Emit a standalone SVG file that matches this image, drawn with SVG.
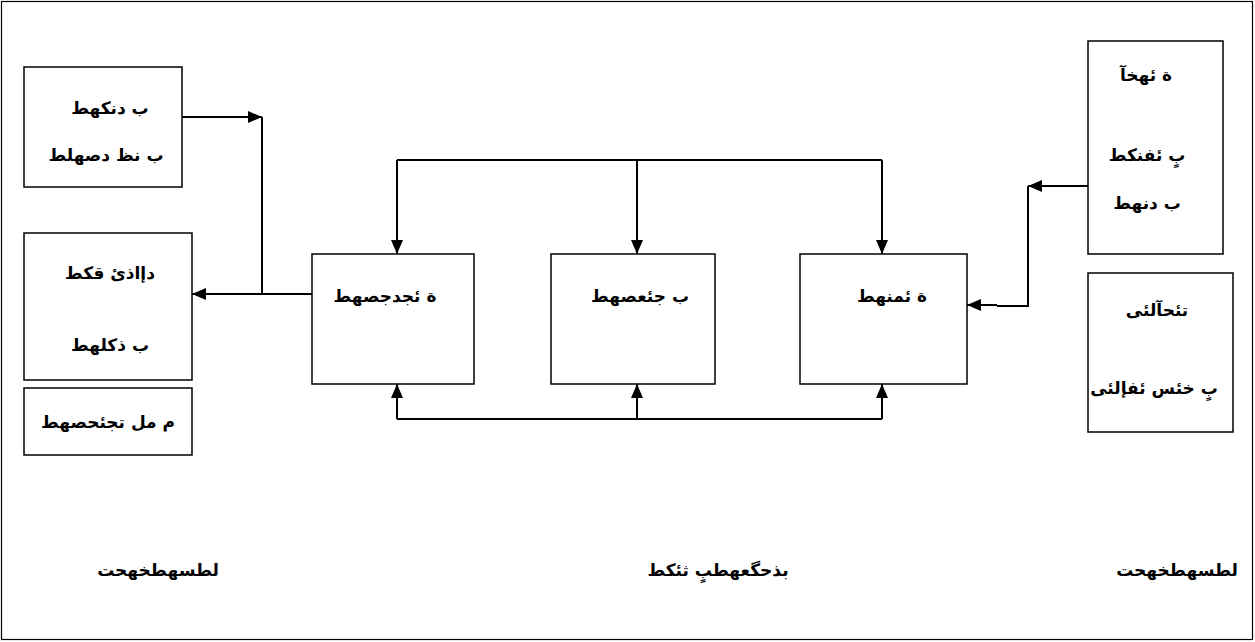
<svg xmlns="http://www.w3.org/2000/svg" width="1255" height="642" viewBox="0 0 1255 642">
  <defs>
    <marker id="arrow" viewBox="0 0 14 12" refX="14" refY="6" markerWidth="14" markerHeight="12" markerUnits="userSpaceOnUse" orient="auto">
      <path d="M0,0 L14,6 L0,12 Z" fill="#000"/>
    </marker>
    <style>
      .box { fill: #fff; stroke: #000; stroke-width: 1.5; }
      .frame { fill: #fff; stroke: #000; stroke-width: 1.2; }
      .wire { fill: none; stroke: #000; stroke-width: 2; }
      .arr { marker-end: url(#arrow); }
      text { font-family: "DejaVu Sans", sans-serif; font-weight: bold; font-size: 17px; fill: #000; text-anchor: middle; dominant-baseline: central; direction: rtl; }
    </style>
  </defs>

  <rect class="frame" x="1.5" y="1.5" width="1251" height="638"/>

  <!-- left column -->
  <g id="node-left-top">
    <rect class="box" x="24" y="67" width="158" height="120"/>
    <text x="110" y="108">ب دنكهط</text>
    <text x="106" y="155">ب نظ دصهلط</text>
  </g>
  <g id="node-left-mid">
    <rect class="box" x="24" y="233" width="168" height="147"/>
    <text x="110" y="273">دإاذئ قكط</text>
    <text x="110" y="345">ب ذكلهط</text>
  </g>
  <g id="node-left-bottom">
    <rect class="box" x="24" y="388" width="168" height="67"/>
    <text x="108" y="422">م مل تجئحصهط</text>
  </g>

  <!-- centre row -->
  <g id="node-centre-left">
    <rect class="box" x="312" y="254" width="162" height="130"/>
    <text x="385" y="296">ة ئجدجصهط</text>
  </g>
  <g id="node-centre">
    <rect class="box" x="551" y="254" width="164" height="130"/>
    <text x="640" y="296">ب جئعصهط</text>
  </g>
  <g id="node-centre-right">
    <rect class="box" x="800" y="254" width="167" height="130"/>
    <text x="892" y="296">ة ئمنهط</text>
  </g>

  <!-- right column -->
  <g id="node-right-top">
    <rect class="box" x="1088" y="41" width="135" height="213"/>
    <text x="1146" y="75">ة ئهخآ</text>
    <text x="1147" y="155">بٍ ئفنكط</text>
    <text x="1147" y="203">ب دنهط</text>
  </g>
  <g id="node-right-bottom">
    <rect class="box" x="1088" y="273" width="145" height="159"/>
    <text x="1157" y="310">تئحآلئى</text>
    <text x="1154" y="388">بٍ خئس ئفإلئى</text>
  </g>

  <!-- column captions -->
  <g id="captions">
    <text x="158" y="570">لطسهطخهحت</text>
    <text x="718" y="570">بذحگعهطبٍ ثئكط</text>
    <text x="1177" y="570">لطسهطخهحت</text>
  </g>

  <g id="connectors">
    <!-- feedback loop on the left -->
    <path class="wire arr" d="M182,117 H262"/>
    <path class="wire" d="M262,117 V294"/>
    <path class="wire arr" d="M312,294 H192"/>

    <!-- top distribution bus -->
    <path class="wire" d="M397,160 H882"/>
    <path class="wire arr" d="M397,160 V254"/>
    <path class="wire arr" d="M637,160 V254"/>
    <path class="wire arr" d="M882,160 V254"/>

    <!-- bottom distribution bus -->
    <path class="wire" d="M397,419 H882"/>
    <path class="wire arr" d="M397,419 V384"/>
    <path class="wire arr" d="M637,419 V384"/>
    <path class="wire arr" d="M882,419 V384"/>

    <!-- input from the right -->
    <path class="wire arr" d="M1088,186 H1028"/>
    <path class="wire" d="M1028,186 V306 H997"/>
    <path class="wire arr" d="M997,305 H967"/>
  </g>
</svg>
